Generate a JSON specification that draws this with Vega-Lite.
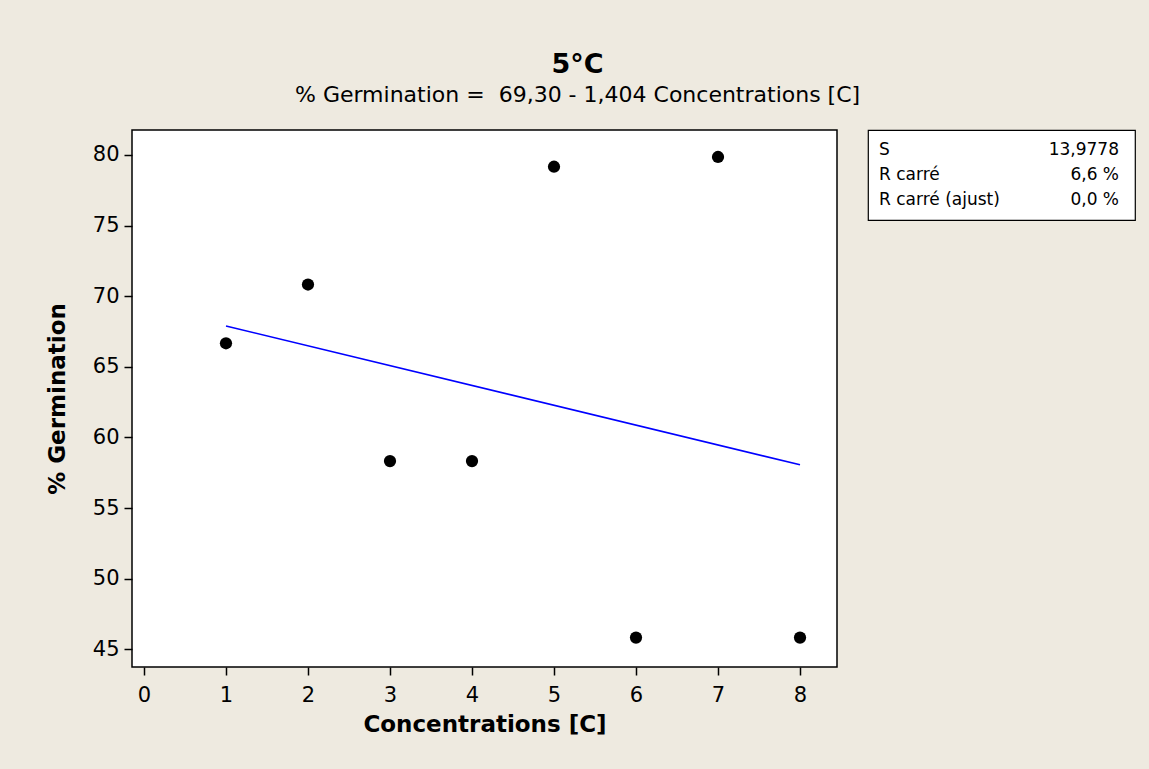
{
  "$schema": "https://vega.github.io/schema/vega-lite/v6.json",
  "background": "#eeeae0",
  "padding": {"left": 45, "top": 51, "right": 14, "bottom": 33},
  "datasets": {
    "germination": [
      {"conc": 1, "pct": 66.67},
      {"conc": 2, "pct": 70.83},
      {"conc": 3, "pct": 58.33},
      {"conc": 4, "pct": 58.33},
      {"conc": 5, "pct": 79.17},
      {"conc": 6, "pct": 45.83},
      {"conc": 7, "pct": 79.86},
      {"conc": 8, "pct": 45.83}
    ],
    "fit": [
      {"conc": 1, "pct": 67.896},
      {"conc": 8, "pct": 58.068}
    ],
    "stats": [
      {"row": 1, "stat": "S", "value": "13,9778"},
      {"row": 2, "stat": "R carré", "value": "6,6 %"},
      {"row": 3, "stat": "R carré (ajust)", "value": "0,0 %"}
    ]
  },
  "title": {
    "text": "5°C",
    "subtitle": "% Germination = \u00a069,30 - 1,404 Concentrations [C]",
    "anchor": "middle",
    "dx": -13,
    "font": "DejaVu Sans",
    "fontSize": 27,
    "fontWeight": "bold",
    "color": "black",
    "subtitleFont": "DejaVu Sans",
    "subtitleFontSize": 22,
    "subtitleColor": "black",
    "subtitlePadding": 6,
    "offset": 22
  },
  "spacing": 29,
  "hconcat": [
    {
      "width": 705,
      "height": 537,
      "view": {"fill": "white", "stroke": "black", "strokeWidth": 1.5},
      "layer": [
        {
          "data": {"name": "fit"},
          "mark": {"type": "line", "color": "#0000ff", "strokeWidth": 1.6},
          "encoding": {
            "x": {"field": "conc", "type": "quantitative"},
            "y": {"field": "pct", "type": "quantitative"}
          }
        },
        {
          "data": {"name": "germination"},
          "mark": {"type": "point", "filled": true, "color": "black", "opacity": 1, "size": 150, "shape": "circle"},
          "encoding": {
            "x": {
              "field": "conc",
              "type": "quantitative",
              "title": "Concentrations [C]",
              "scale": {"domain": [-0.146, 8.451], "nice": false, "zero": false},
              "axis": {"values": [0, 1, 2, 3, 4, 5, 6, 7, 8], "format": "d"}
            },
            "y": {
              "field": "pct",
              "type": "quantitative",
              "title": "% Germination",
              "scale": {"domain": [43.75, 81.77], "nice": false, "zero": false},
              "axis": {"values": [45, 50, 55, 60, 65, 70, 75, 80], "format": "d"}
            }
          }
        }
      ]
    },
    {
      "width": 267,
      "height": 90,
      "view": {"fill": "white", "stroke": "black", "strokeWidth": 1.2},
      "data": {"name": "stats"},
      "encoding": {
        "y": {
          "field": "row",
          "type": "ordinal",
          "scale": {"type": "point", "padding": 0.8},
          "axis": null
        }
      },
      "layer": [
        {
          "mark": {"type": "text", "align": "left", "dx": 11, "font": "DejaVu Sans", "fontSize": 17, "color": "black"},
          "encoding": {
            "x": {"datum": 0, "type": "quantitative", "scale": {"domain": [0, 1]}, "axis": null},
            "text": {"field": "stat"}
          }
        },
        {
          "mark": {"type": "text", "align": "right", "dx": -16, "font": "DejaVu Sans", "fontSize": 17, "color": "black"},
          "encoding": {
            "x": {"datum": 1, "type": "quantitative", "scale": {"domain": [0, 1]}, "axis": null},
            "text": {"field": "value"}
          }
        }
      ]
    }
  ],
  "config": {
    "axis": {
      "domain": false,
      "grid": false,
      "tickColor": "black",
      "tickSize": 8,
      "tickWidth": 1.5,
      "labelFont": "DejaVu Sans",
      "labelFontSize": 21,
      "labelColor": "black",
      "labelPadding": 5,
      "titleFont": "DejaVu Sans",
      "titleFontSize": 23,
      "titleFontWeight": "bold",
      "titleColor": "black"
    },
    "axisX": {"labelPadding": 9, "titlePadding": 8},
    "axisY": {"titlePadding": 23}
  }
}
